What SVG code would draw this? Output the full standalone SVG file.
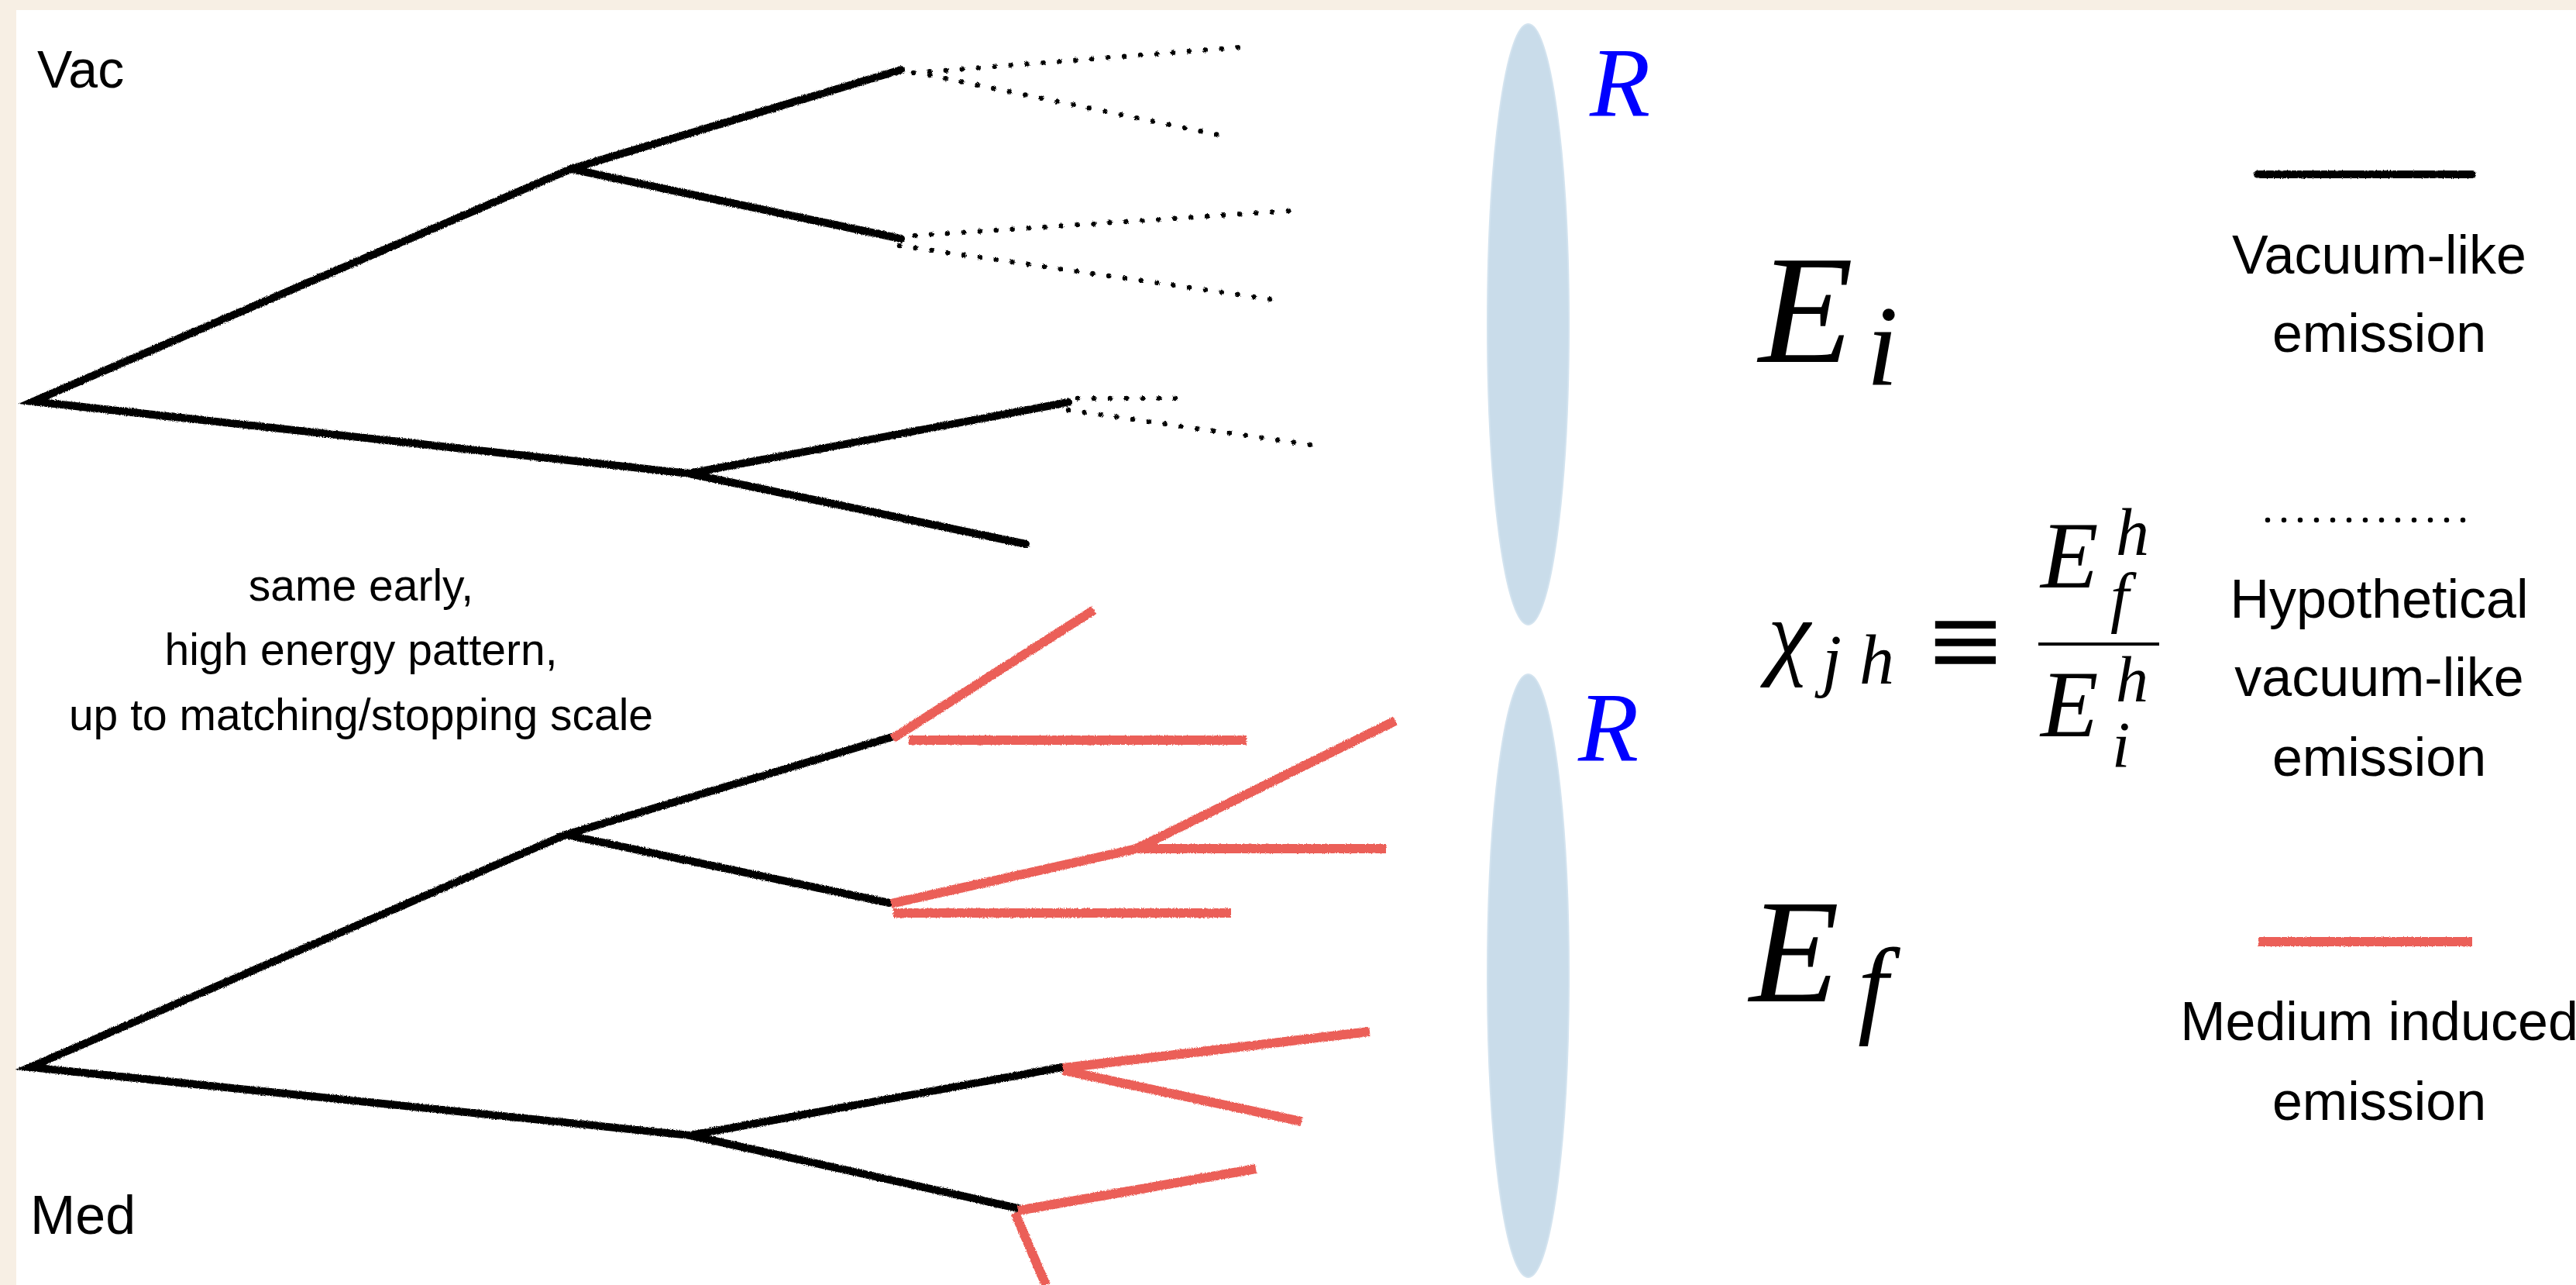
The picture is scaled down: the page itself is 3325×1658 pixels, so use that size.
<svg xmlns="http://www.w3.org/2000/svg" width="3325" height="1658" viewBox="0 0 3325 1658">
<style>
.sans{font-family:"Liberation Sans",Arial,sans-serif;fill:#000}
.math{font-family:"Liberation Serif","DejaVu Serif",serif;font-style:italic;fill:#000}
.sym{font-family:"DejaVu Serif","Liberation Serif",serif;fill:#000}
.blk{stroke:#000;stroke-width:10;stroke-linecap:round;fill:none}
.red{stroke:#eb5f58;stroke-width:12;stroke-linecap:butt;fill:none}
.dot{stroke:#000;stroke-width:6.5;stroke-linecap:round;stroke-dasharray:0 21;fill:none}
.lens{fill:#c9dcea;stroke:#d3e3ef;stroke-width:2}
.rlab{font-family:"Liberation Serif",serif;font-style:italic;fill:#0000ff;font-size:128px}
</style>
<defs>
<filter id="pencil" filterUnits="userSpaceOnUse" x="0" y="0" width="3325" height="1658">
<feTurbulence type="fractalNoise" baseFrequency="0.9" numOctaves="2" seed="3" result="n"/>
<feDisplacementMap in="SourceGraphic" in2="n" scale="3.5" xChannelSelector="R" yChannelSelector="G"/>
</filter>
</defs>
<rect x="0" y="0" width="3325" height="1658" fill="#f7efe4"/>
<rect x="21" y="13" width="3304" height="1645" fill="#ffffff"/>

<g id="lens-top"><ellipse class="lens" cx="1972.5" cy="418.5" rx="52.5" ry="387.5"/><text class="rlab" x="2052" y="150">R</text></g>
<g id="lens-bottom"><ellipse class="lens" cx="1972.5" cy="1259" rx="52.5" ry="389"/><text class="rlab" x="2037" y="982">R</text></g>

<g id="label-vac"><text class="sans" x="48" y="113" font-size="68">Vac</text></g>
<g id="label-med"><text class="sans" x="39" y="1592" font-size="70">Med</text></g>
<g id="label-note" class="sans" font-size="57" text-anchor="middle">
<text x="466" y="775">same early,</text>
<text x="466" y="858">high energy pattern,</text>
<text x="466" y="942">up to matching/stopping scale</text>
</g>

<g id="connectors" filter="url(#pencil)">
<g id="vac-tree">
<polyline class="blk" points="1163,90 737,218 43,518 889,611 1379,519"/>
<line class="blk" x1="737" y1="218" x2="1163" y2="308"/>
<line class="blk" x1="889" y1="611" x2="1324" y2="702"/>
<line class="dot" x1="1179" y1="94" x2="1614" y2="60"/>
<line class="dot" x1="1200" y1="97" x2="1573" y2="174"/>
<line class="dot" x1="1181" y1="304" x2="1664" y2="272"/>
<line class="dot" x1="1161" y1="317" x2="1659" y2="389"/>
<line class="dot" x1="1391" y1="514" x2="1519" y2="514"/>
<line class="dot" x1="1379" y1="529" x2="1692" y2="574"/>
</g>
<g id="med-tree">
<polyline class="blk" points="1151,951 730,1077 39,1377 891,1465 1371,1377"/>
<line class="blk" x1="730" y1="1077" x2="1148" y2="1165"/>
<line class="blk" x1="891" y1="1465" x2="1314" y2="1559"/>
<line class="red" x1="1152" y1="953" x2="1412" y2="787"/>
<line class="red" x1="1173" y1="955" x2="1609" y2="955"/>
<line class="red" x1="1150" y1="1166" x2="1467" y2="1095"/>
<line class="red" x1="1467" y1="1095" x2="1801" y2="930"/>
<line class="red" x1="1467" y1="1095" x2="1789" y2="1095"/>
<line class="red" x1="1153" y1="1178" x2="1589" y2="1178"/>
<line class="red" x1="1372" y1="1378" x2="1768" y2="1331"/>
<line class="red" x1="1372" y1="1381" x2="1680" y2="1447"/>
<line class="red" x1="1314" y1="1562" x2="1621" y2="1508"/>
<line class="red" x1="1310" y1="1565" x2="1350" y2="1658"/>
</g>
</g>

<g id="energy-i"><text class="math" x="2270" y="467" font-size="200">E<tspan x="2409" y="497" font-size="148">i</tspan></text></g>
<g id="energy-f"><text class="math" x="2258" y="1292" font-size="190">E<tspan x="2398" y="1320" font-size="140">f</tspan></text></g>

<g id="formula">
<text class="math" x="2282" y="860" font-size="124">χ<tspan x="2352" y="882" font-size="90">j</tspan><tspan x="2400" y="882" font-size="90">h</tspan></text>
<text class="sym" x="2537" y="868" font-size="125" text-anchor="middle">≡</text>
<rect x="2631" y="829" width="156" height="4" fill="#000"/>
<text class="math" x="2634" y="758" font-size="122">E<tspan x="2731" y="716" font-size="86">h</tspan><tspan x="2724" y="799" font-size="86">f</tspan></text>
<text class="math" x="2634" y="950" font-size="122">E<tspan x="2731" y="905" font-size="84">h</tspan><tspan x="2726" y="990" font-size="84">i</tspan></text>
</g>

<g id="legend-vacuum">
<line class="blk" x1="2914" y1="225" x2="3191" y2="225" stroke-width="10" stroke-linecap="butt" filter="url(#pencil)"/>
<text class="sans" x="3071" y="353" font-size="70" text-anchor="middle">Vacuum-like</text>
<text class="sans" x="3071" y="454" font-size="70" text-anchor="middle">emission</text>
</g>
<g id="legend-hypothetical">
<line class="dot" x1="2927" y1="671" x2="3189" y2="671" stroke-width="5.5"/>
<text class="sans" x="3071" y="797" font-size="70" text-anchor="middle">Hypothetical</text>
<text class="sans" x="3071" y="898" font-size="70" text-anchor="middle">vacuum-like</text>
<text class="sans" x="3071" y="1001" font-size="70" text-anchor="middle">emission</text>
</g>
<g id="legend-medium">
<line class="red" x1="2915" y1="1215" x2="3191" y2="1215" stroke-width="11" filter="url(#pencil)"/>
<text class="sans" x="3071" y="1342" font-size="70" text-anchor="middle">Medium induced</text>
<text class="sans" x="3071" y="1445" font-size="70" text-anchor="middle">emission</text>
</g>
</svg>
